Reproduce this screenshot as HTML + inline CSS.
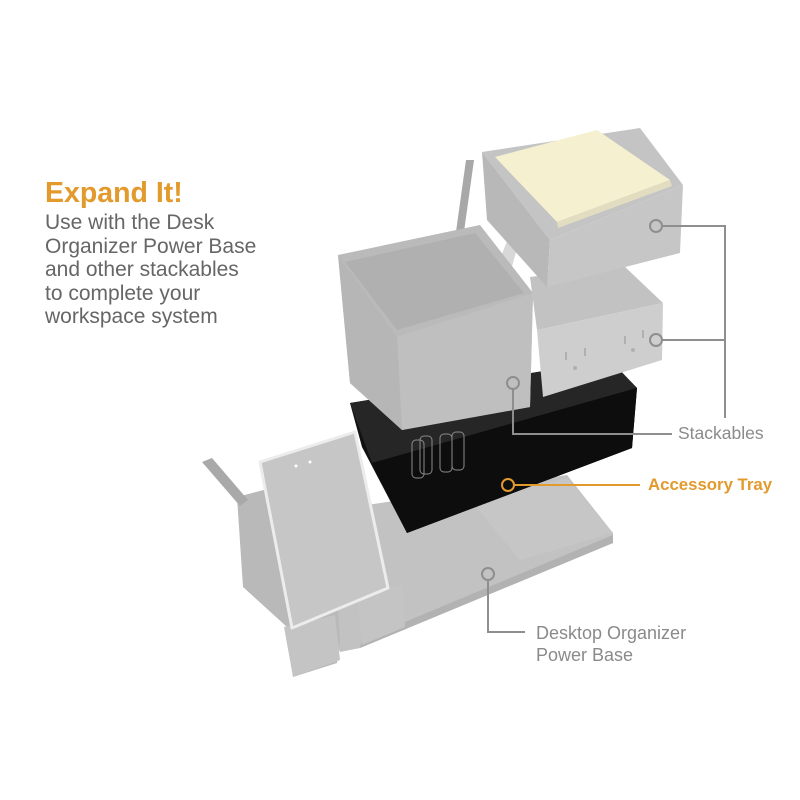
<!DOCTYPE html>
<html><head><style>
body{margin:0;width:800px;height:800px;background:#fff;overflow:hidden;position:relative;font-family:"Liberation Sans",sans-serif}
.t{position:absolute;color:#6b6b6b;white-space:nowrap}
</style></head><body>
<svg width="800" height="800" style="position:absolute;left:0;top:0">
<!-- base plate -->
<polygon points="300,515 420,497 567,475 613,533 613,543 360,648 340,652 300,560" fill="#c2c2c2"/>
<polygon points="360,648 613,543 613,535 362,640" fill="#b2b2b2"/>
<polygon points="470,500 567,478 613,533 520,560" fill="#c6c6c6"/>
<!-- left holder -->
<polygon points="237,497 275,487 300,500 335,560 340,640 337,663 293,677 287,627 243,587" fill="#b9b9b9"/>
<polygon points="202,462 212,458 248,500 240,506" fill="#a9a9a9"/>
<polygon points="284,627 335,615 340,660 293,677" fill="#c4c4c4"/>
<polygon points="357,593 403,585 405,627 362,645" fill="#c4c4c4"/>
<!-- phone -->
<polygon points="260,462 355,432 388,588 292,628" fill="#c6c6c6" stroke="#ececec" stroke-width="3" stroke-linejoin="round"/>
<circle cx="296" cy="466" r="1.5" fill="#fff"/><circle cx="310" cy="462" r="1.5" fill="#fff"/>
<!-- black tray -->
<polygon points="350,403 610,360 637,388 632,448 407,533 362,447" fill="#111"/>
<polygon points="350,403 610,360 637,388 372,463" fill="#262626"/>
<polygon points="372,463 637,388 632,448 407,533" fill="#0d0d0d"/>
<g stroke="#8a8a8a" stroke-width="1" fill="none">
<rect x="412" y="440" width="12" height="38" rx="4"/><rect x="420" y="436" width="12" height="38" rx="4"/><rect x="440" y="434" width="12" height="38" rx="4"/><rect x="452" y="432" width="12" height="38" rx="4"/>
</g>
<!-- pens -->
<polygon points="466,160 474,160 452,318 444,318" fill="#a8a8a8"/>
<polygon points="518,213 526,216 500,310 480,310" fill="#d8d8d8"/>
<!-- pen cup -->
<polygon points="338,255 480,225 533,293 530,407 402,430 350,383" fill="#bababa"/>
<polygon points="345,262 475,233 524,293 397,330" fill="#b0b0b0"/>
<polygon points="397,337 533,293 530,407 402,430" fill="#bfbfbf"/>
<polygon points="338,255 397,337 402,430 350,383" fill="#b6b6b6"/>
<!-- outlet box -->
<polygon points="530,277 623,265 663,303 537,330" fill="#c2c2c2"/>
<polygon points="537,330 663,303 662,360 543,397" fill="#cecece"/>
<g stroke="#b0b0b0" stroke-width="2"><line x1="566" y1="352" x2="566" y2="360"/><line x1="585" y1="348" x2="585" y2="356"/><line x1="625" y1="336" x2="625" y2="344"/><line x1="643" y1="330" x2="643" y2="338"/></g>
<circle cx="575" cy="368" r="2" fill="#b0b0b0"/><circle cx="633" cy="350" r="2" fill="#b0b0b0"/>
<!-- notepad box -->
<polygon points="482,152 640,128 683,185 550,240" fill="#c4c4c4"/>
<polygon points="482,152 550,240 547,287 487,220" fill="#b8b8b8"/>
<polygon points="550,240 683,185 680,253 547,287" fill="#c6c6c6"/>
<polygon points="495,157 597,130 670,180 557,222" fill="#f5f0cf"/>
<polygon points="557,222 670,180 672,186 558,228" fill="#e2ddc0"/>
<!-- connectors -->
<g stroke="#8e8e8e" stroke-width="2" fill="none">
<circle cx="656" cy="226" r="6"/><polyline points="662,226 725,226 725,418"/>
<circle cx="656" cy="340" r="6"/><line x1="662" y1="340" x2="725" y2="340"/>
<circle cx="513" cy="383" r="6"/><polyline points="513,389 513,434 672,434"/>
<circle cx="488" cy="574" r="6"/><polyline points="488,580 488,632 525,632"/>
</g>
<g stroke="#e39a2d" stroke-width="2" fill="none">
<circle cx="508" cy="485" r="6"/><line x1="514" y1="485" x2="640" y2="485"/>
</g>
</svg>
<div class="t" style="left:45px;top:177px;font-size:28.5px;font-weight:bold;color:#e39a2d">Expand It!</div>
<div class="t" style="left:45px;top:211px;font-size:21px;line-height:23.5px;color:#666">Use with the Desk<br>Organizer Power Base<br>and other stackables<br>to complete your<br>workspace system</div>
<div class="t" style="left:678px;top:423px;font-size:17.5px;color:#8a8a8a">Stackables</div>
<div class="t" style="left:648px;top:475px;font-size:16.8px;font-weight:bold;color:#e39a2d">Accessory Tray</div>
<div class="t" style="left:536px;top:622px;font-size:18px;line-height:22px;color:#8a8a8a">Desktop Organizer<br>Power Base</div>
</body></html>
